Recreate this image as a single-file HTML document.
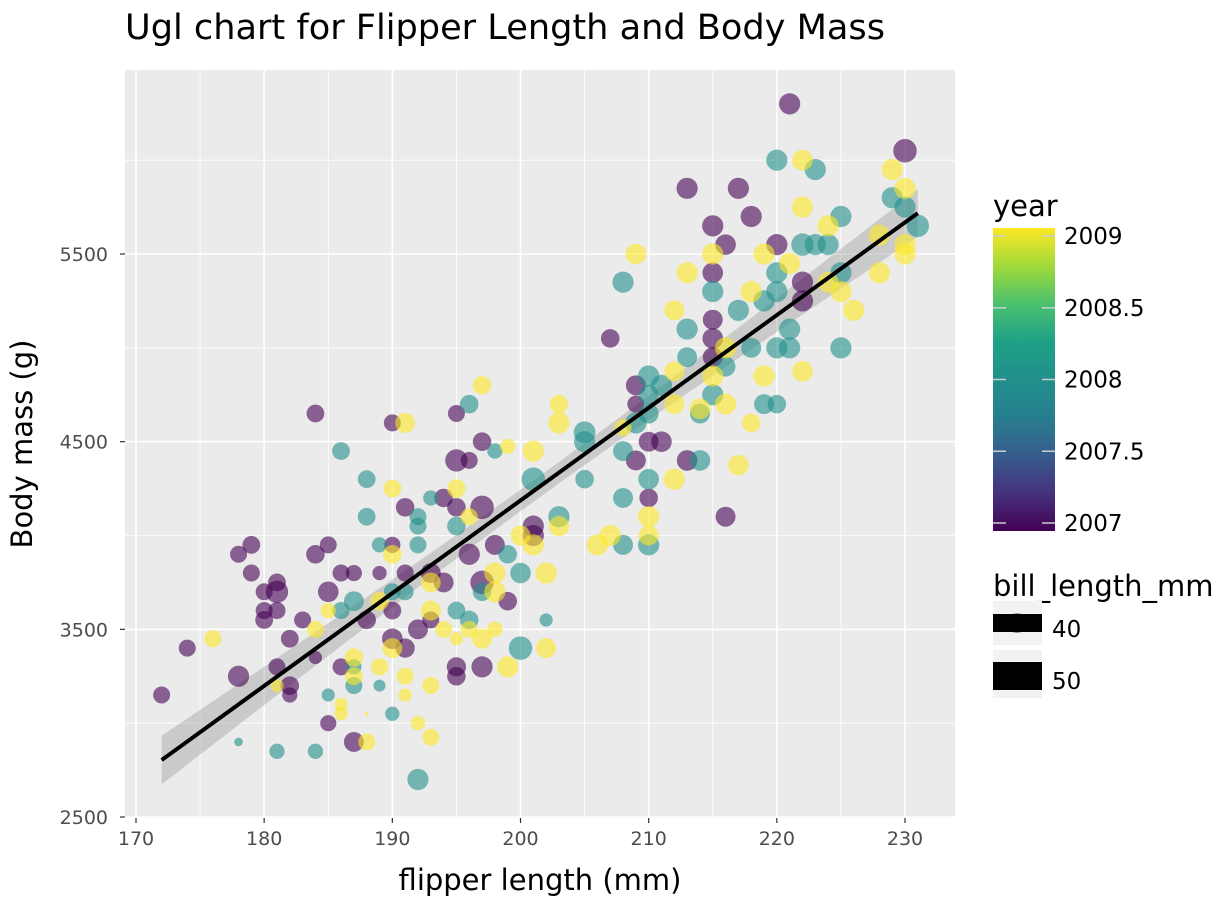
<!DOCTYPE html>
<html><head><meta charset="utf-8"><style>
body{margin:0;background:#fff;}
svg{display:block;font-family:"DejaVu Sans","Liberation Sans",sans-serif;}
</style></head><body>
<svg id="chart" width="1228" height="921" viewBox="0 0 1228 921">
<defs>
<linearGradient id="vir" x1="0" y1="1" x2="0" y2="0">
<stop offset="0" stop-color="#440154"/><stop offset="0.125" stop-color="#46327e"/><stop offset="0.25" stop-color="#365c8d"/><stop offset="0.375" stop-color="#277f8e"/><stop offset="0.5" stop-color="#21908c"/><stop offset="0.625" stop-color="#1fa187"/><stop offset="0.75" stop-color="#4ac16d"/><stop offset="0.875" stop-color="#a0da39"/><stop offset="1" stop-color="#fde725"/>
</linearGradient>
</defs>
<text x="125" y="39" font-size="35" textLength="760" lengthAdjust="spacingAndGlyphs" fill="#000">Ugl chart for Flipper Length and Body Mass</text>
<rect x="125" y="70" width="830" height="748" fill="#ebebeb"/>
<g id="grid"></g>
<g id="band"></g>
<g id="pts"></g>
<g id="fit"></g>
<g id="axes"></g>
<text x="540" y="890" font-size="29" text-anchor="middle">flipper length (mm)</text>
<text transform="translate(32,444) rotate(-90)" font-size="29" text-anchor="middle">Body mass (g)</text>
<g>
<text x="993" y="216" font-size="29">year</text>
<rect x="993" y="228" width="62" height="303" fill="url(#vir)"/>
<g id="cbticks"></g>
</g>
<g>
<text x="993" y="596" font-size="29">bill_length_mm</text>
<rect x="993" y="601" width="49" height="44" fill="#f2f2f2"/>
<circle cx="1017" cy="623" r="10" fill="#555" opacity="0.6"/>
<rect x="993" y="614" width="49" height="18" fill="#000"/>
<text x="1052" y="637" font-size="23">40</text>
<rect x="993" y="650" width="49" height="48" fill="#f2f2f2"/>
<circle cx="1017" cy="676" r="13" fill="#555" opacity="0.6"/>
<rect x="993" y="662" width="49" height="28" fill="#000"/>
<text x="1052" y="689" font-size="23">50</text>
</g>
</svg>
<script>
const xTicks=[170,180,190,200,210,220,230];
const yTicks=[2500,3500,4500,5500];
const yearTicks=[2007,2007.5,2008,2008.5,2009];
// [flipper, mass, bill]
const pts2007=[[172,3150,40],[174,3400,40],[178,3250,46],[178,3900,40],[179,3950,41],[179,3800,40],[180,3700,40],[180,3550,41],[180,3600,40],[181,3700,48],[181,3750,41],[181,3600,40],[181,3300,40],[182,3450,41],[182,3200,42],[182,3150,38],[183,3550,40],[184,3900,42],[184,3350,36],[184,4650,41],[185,3950,40],[185,3700,45],[185,3000,39],[186,3800,40],[186,3300,40],[187,2900,44],[187,3800,39],[188,3550,42],[189,3800,37],[190,4600,40],[190,3950,39],[190,3450,45],[190,3600,41],[191,4150,42],[191,3800,40],[191,3400,43],[192,3500,44],[193,3800,44],[193,3550,40],[194,4200,42],[194,3750,44],[195,4650,40],[195,4400,48],[195,4150,42],[195,3300,43],[195,3250,42],[196,4400,40],[196,3900,46],[197,4150,50],[197,4500,42],[197,3750,50],[197,3300,46],[198,3950,44],[199,3650,42],[201,4050,46],[201,4000,46],[207,5050,42],[209,4800,44],[209,4700,40],[209,4400,44],[210,4500,44],[210,4200,42],[211,4500,45],[213,5850,46],[213,4400,45],[215,5650,46],[215,5400,45],[215,5150,44],[215,5050,45],[215,4950,44],[216,5550,45],[216,4100,44],[217,5850,46],[218,5700,46],[220,5550,46],[221,6300,46],[222,5350,46],[222,5250,46],[230,6050,50]];
const pts2008=[[178,2900,33],[181,2850,38],[184,2850,38],[185,3150,36],[186,4450,41],[186,3600,40],[187,3650,44],[187,3200,40],[187,3300,38],[188,4300,41],[188,4100,41],[189,3950,38],[189,3200,35],[190,3050,37],[190,3700,40],[191,3700,40],[192,4100,40],[192,4050,40],[192,3950,40],[192,2700,46],[193,4200,38],[195,4050,42],[195,3600,41],[196,3550,42],[196,4700,42],[197,3700,42],[198,4450,38],[199,3900,42],[200,3800,45],[200,3400,50],[201,4300,50],[202,3550,36],[203,4100,46],[205,4550,47],[205,4500,46],[205,4300,42],[208,5350,46],[208,4450,44],[208,4200,44],[208,3950,44],[209,4600,46],[210,4850,46],[210,4750,44],[210,4650,44],[210,4300,45],[210,3950,46],[211,4800,46],[213,5100,46],[213,4950,44],[214,4650,44],[214,4400,45],[215,5300,46],[215,4750,46],[216,4900,44],[217,5200,46],[218,5000,44],[219,5250,46],[219,4700,44],[220,6000,46],[220,5400,46],[220,5300,46],[220,5000,46],[220,4700,42],[221,5100,46],[221,5000,46],[222,5550,48],[223,5950,46],[223,5550,46],[224,5550,46],[225,5700,46],[225,5400,46],[225,5000,46],[229,5800,46],[230,5750,46],[231,5650,48]];
const pts2009=[[176,3450,40],[181,3200,36],[184,3500,40],[185,3600,38],[186,3100,36],[186,3050,36],[187,3350,42],[187,3250,41],[188,2900,40],[188,3050,32],[189,3650,42],[189,3300,40],[190,3900,42],[190,3400,44],[190,4250,41],[191,3250,40],[191,3150,36],[191,4600,44],[192,3000,37],[193,3750,44],[193,3600,44],[193,3200,40],[193,2925,40],[194,3500,40],[195,4250,42],[195,3450,36],[196,3500,40],[196,4100,40],[197,4800,42],[197,3450,44],[198,3800,46],[198,3700,46],[198,3500,38],[199,3300,46],[199,4475,38],[200,4000,44],[201,4450,46],[201,3950,46],[202,3800,46],[202,3400,44],[203,4700,42],[203,4600,46],[203,4050,45],[206,3950,46],[207,4000,46],[208,4575,40],[209,5500,45],[210,4100,46],[210,4000,44],[212,5200,44],[212,4875,44],[212,4700,44],[212,4300,46],[213,5400,46],[214,4675,45],[215,5500,46],[215,4850,46],[216,5000,46],[216,4700,46],[217,4375,45],[218,5300,46],[218,4600,42],[219,5500,46],[219,4850,46],[221,5450,46],[222,6000,45],[222,5750,46],[222,4875,45],[224,5650,46],[224,5350,45],[225,5300,46],[226,5200,46],[228,5600,46],[228,5400,46],[229,5950,46],[230,5850,46],[230,5550,46],[230,5500,46]];
const ns="http://www.w3.org/2000/svg";
const X=v=>136+(v-170)*769/60;
const Y=v=>817-(v-2500)*563/3000;
const R=b=>2+Math.sqrt(Math.max(b-32,0))*2.3;
function mk(tag,at,par){const e=document.createElementNS(ns,tag);for(const k in at)e.setAttribute(k,at[k]);par.appendChild(e);return e;}
const grid=document.getElementById('grid'),axes=document.getElementById('axes');
for(let v=165;v<=235;v+=5){const px=X(v);if(px<125||px>955)continue;const g=mk('line',{x1:px,x2:px,y1:70,y2:818,stroke:'#fff','stroke-width':v%10?0.8:1.6},grid);

}
for(let v=2500;v<=6500;v+=500){const py=Y(v);if(py<70||py>818)continue;const g=mk('line',{x1:125,x2:955,y1:py,y2:py,stroke:'#fff','stroke-width':v%1000===500?1.6:0.8},grid);

}
xTicks.forEach(v=>{const px=X(v);mk('line',{x1:px,x2:px,y1:818,y2:823,stroke:'#333','stroke-width':1.2},axes);
const t=mk('text',{x:px,y:845,'font-size':19,fill:'#4d4d4d','text-anchor':'middle'},axes);t.textContent=v;

});
yTicks.forEach(v=>{const py=Y(v);mk('line',{x1:120,x2:125,y1:py,y2:py,stroke:'#333','stroke-width':1.2},axes);
const t=mk('text',{x:108,y:py+7,'font-size':19,fill:'#4d4d4d','text-anchor':'end'},axes);t.textContent=v;

});
const cols={2007:'#440154',2008:'#21908c',2009:'#fde725'};
const ptsG=document.getElementById('pts');
[[2007,pts2007],[2008,pts2008],[2009,pts2009]].forEach(([yr,arr])=>arr.forEach(p=>{
const c=mk('circle',{cx:X(p[0]),cy:Y(p[1]),r:R(p[2]),fill:cols[yr],'fill-opacity':0.6},ptsG);

}));
const all=pts2007.concat(pts2008,pts2009);const n=all.length;
const mx=all.reduce((s,p)=>s+p[0],0)/n,my=all.reduce((s,p)=>s+p[1],0)/n;
let sxx=0,sxy=0;all.forEach(p=>{sxx+=(p[0]-mx)**2;sxy+=(p[0]-mx)*(p[1]-my);});
const b1=sxy/sxx,b0=my-b1*mx;let sse=0;all.forEach(p=>{sse+=(p[1]-b0-b1*p[0])**2;});
const s=Math.sqrt(sse/(n-2));
const xmin=Math.min(...all.map(p=>p[0])),xmax=Math.max(...all.map(p=>p[0]));
let up=[],lo=[];
for(let i=0;i<=40;i++){const x=xmin+(xmax-xmin)*i/40;const f=b0+b1*x;const h=1.97*s*Math.sqrt(1/n+(x-mx)**2/sxx);up.push(X(x)+','+Y(f+h));lo.unshift(X(x)+','+Y(f-h));}
const band=mk('polygon',{points:up.concat(lo).join(' '),fill:'#999','fill-opacity':0.4},document.getElementById('band'));


const ln=mk('line',{x1:X(xmin),y1:Y(b0+b1*xmin),x2:X(xmax),y2:Y(b0+b1*xmax),stroke:'#000','stroke-width':4},document.getElementById('fit'));


const cb=document.getElementById('cbticks');
yearTicks.forEach(v=>{const py=523-(v-2007)*(523-236)/2;
mk('line',{x1:993,x2:1006,y1:py,y2:py,stroke:'#ccc','stroke-width':1.5},cb);
mk('line',{x1:1042,x2:1055,y1:py,y2:py,stroke:'#ccc','stroke-width':1.5},cb);
const t=mk('text',{x:1064,y:py+8,'font-size':23,fill:'#000'},cb);t.textContent=v;

});
</script>
</body></html>
